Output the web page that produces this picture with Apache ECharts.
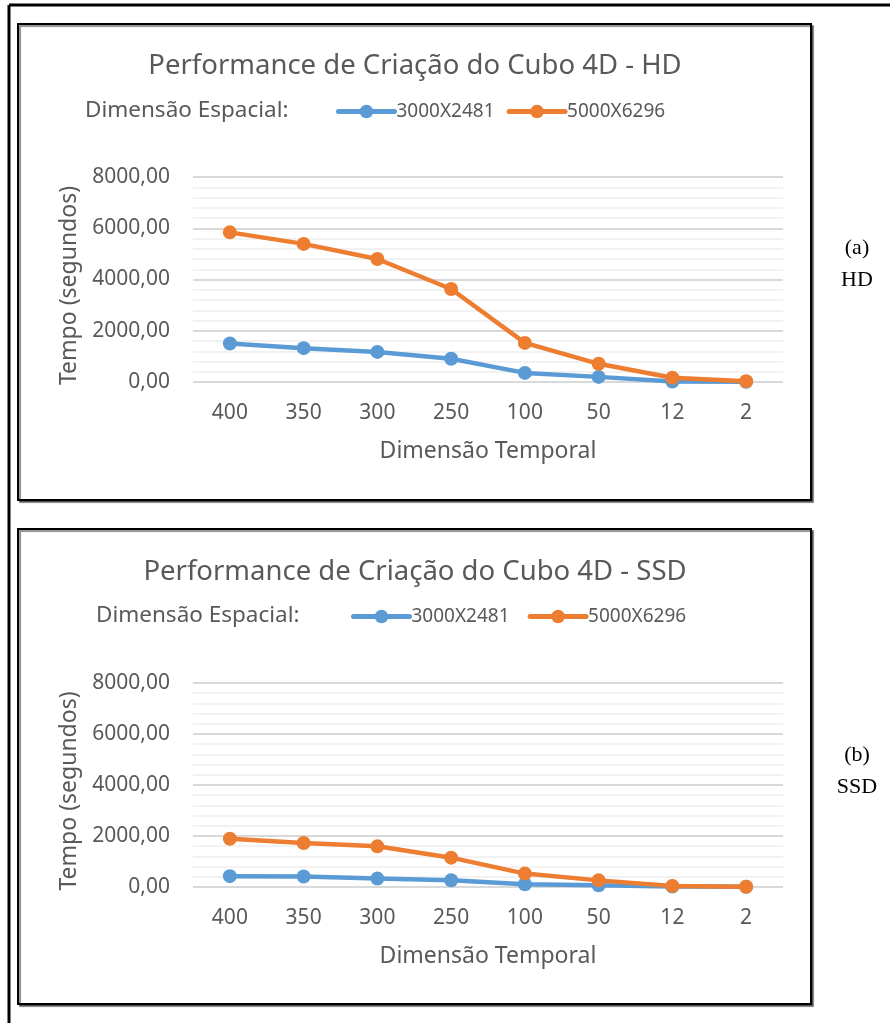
<!DOCTYPE html>
<html>
<head>
<meta charset="utf-8">
<script src="https://cdn.jsdelivr.net/npm/echarts@6/dist/echarts.min.js"></script>
<style>
html,body{margin:0;padding:0;background:#fff;}
#c{width:890px;height:1023px;}
</style>
</head>
<body>
<div id="c"></div>
<script>
// ---- data ----
const categories = ['400', '350', '300', '250', '100', '50', '12', '2'];
const seriesNames = ['3000X2481', '5000X6296'];
const hdSmall = [1500, 1320, 1175, 905, 355, 200, 20, 5];
const hdLarge = [5840, 5390, 4800, 3630, 1525, 710, 165, 30];
const ssdSmall = [425, 410, 330, 265, 105, 65, 15, 5];
const ssdLarge = [1895, 1725, 1595, 1150, 525, 260, 40, 10];
const titles = ['Performance de Criação do Cubo 4D - HD', 'Performance de Criação do Cubo 4D - SSD'];
const sideLabels = [['(a)', 'HD'], ['(b)', 'SSD']];
const legendPrefix = 'Dimensão Espacial:';
const xName = 'Dimensão Temporal';
const yName = 'Tempo (segundos)';
const yMin = 0, yMax = 8000, yStep = 2000;

// ---- styles ----
const FONT = 'Noto Sans';
const TXT = '#595959';
const BLUE = '#5B9BD5';
const ORANGE = '#ED7D31';

const chart = echarts.init(document.getElementById('c'), null, {renderer: 'canvas'});

const panels = [
  {top: 177, height: 205, boxY: 24, boxH: 476, titleY: 66, legY: 111, prefixX: 85, legX: 336, legGap: 12, sideY: 248},
  {top: 683, height: 204, boxY: 529, boxH: 475, titleY: 572, legY: 616, prefixX: 96, legX: 351, legGap: 18, sideY: 755}
];

function fmt(v){ return v.toFixed(2).replace('.', ','); }

const grids = [], xAxes = [], yAxes = [], series = [], legends = [], graphics = [];

// outer frame lines
graphics.push({type:'line', shape:{x1:9, y1:5, x2:890, y2:5}, style:{stroke:'#000', lineWidth:3}, silent:true});
graphics.push({type:'line', shape:{x1:9, y1:5, x2:9, y2:1023}, style:{stroke:'#000', lineWidth:3}, silent:true});

panels.forEach((p, i) => {
  grids.push({left: 193, right: 107, top: p.top, height: p.height, containLabel: false});
  xAxes.push({
    type: 'category', gridIndex: i, data: categories, boundaryGap: true,
    axisLine: {show: false}, axisTick: {show: false},
    axisLabel: {color: TXT, fontFamily: FONT, fontSize: 21, margin: 21},
    name: xName, nameLocation: 'middle', nameGap: 58,
    nameTextStyle: {color: TXT, fontFamily: FONT, fontSize: 23}
  });
  yAxes.push({
    type: 'value', gridIndex: i, min: yMin, max: yMax, interval: yStep,
    axisLine: {show: false}, axisTick: {show: false},
    axisLabel: {color: TXT, fontFamily: FONT, fontSize: 21, margin: 23, formatter: fmt},
    splitLine: {show: true, lineStyle: {color: '#D9D9D9', width: 2}},
    minorTick: {show: false, splitNumber: 5},
    minorSplitLine: {show: true, lineStyle: {color: '#EEEEEE', width: 1.5}},
    name: yName, nameLocation: 'middle', nameGap: 107, nameRotate: 90,
    nameTextStyle: {color: TXT, fontFamily: FONT, fontSize: 23, padding: [0, 12, 0, 0]}
  });
  const small = i === 0 ? hdSmall : ssdSmall;
  const large = i === 0 ? hdLarge : ssdLarge;
  [[small, BLUE], [large, ORANGE]].forEach((s, k) => {
    series.push({
      type: 'line', name: seriesNames[k], xAxisIndex: i, yAxisIndex: i, data: s[0],
      symbol: 'circle', symbolSize: 14, z: 2 + k,
      itemStyle: {color: s[1]},
      lineStyle: {color: s[1], width: 4.5, join: 'round', cap: 'round'},
      animation: false
    });
  });
  legends.push({
    data: seriesNames, left: p.legX, top: p.legY - 9, padding: 0,
    itemWidth: 56, itemHeight: 17, itemGap: p.legGap,
    lineStyle: {width: 5},
    textStyle: {color: TXT, fontFamily: FONT, fontSize: 19, padding: [0, 0, 0, -3]},
    selectedMode: false
  });
  // chart box
  graphics.push({type:'rect', shape:{x:18, y:p.boxY, width:793, height:p.boxH},
    style:{fill:'#fff', stroke:'#000', lineWidth:2, shadowColor:'rgba(0,0,0,0.45)', shadowOffsetX:2, shadowOffsetY:2, shadowBlur:1},
    z:-10, silent:true});
  graphics.push({type:'text', x: 415, y: p.titleY, z: 10,
    style:{text: titles[i], fill: TXT, font: '27.5px "' + FONT + '"', textAlign:'center', textVerticalAlign:'middle'}});
  graphics.push({type:'text', x: p.prefixX, y: p.legY, z: 10,
    style:{text: legendPrefix, fill: TXT, font: '22.5px "' + FONT + '"', textAlign:'left', textVerticalAlign:'middle'}});
  graphics.push({type:'text', x: 857, y: p.sideY, z: 10,
    style:{text: sideLabels[i][0], fill: '#000', font: '22px "Liberation Serif"', textAlign:'center', textVerticalAlign:'middle'}});
  graphics.push({type:'text', x: 857, y: p.sideY + 32, z: 10,
    style:{text: sideLabels[i][1], fill: '#000', font: '22px "Liberation Serif"', textAlign:'center', textVerticalAlign:'middle'}});
});

chart.setOption({
  backgroundColor: '#fff',
  animation: false,
  grid: grids, xAxis: xAxes, yAxis: yAxes, series: series, legend: legends,
  graphic: {elements: graphics}
});
</script>
</body>
</html>
